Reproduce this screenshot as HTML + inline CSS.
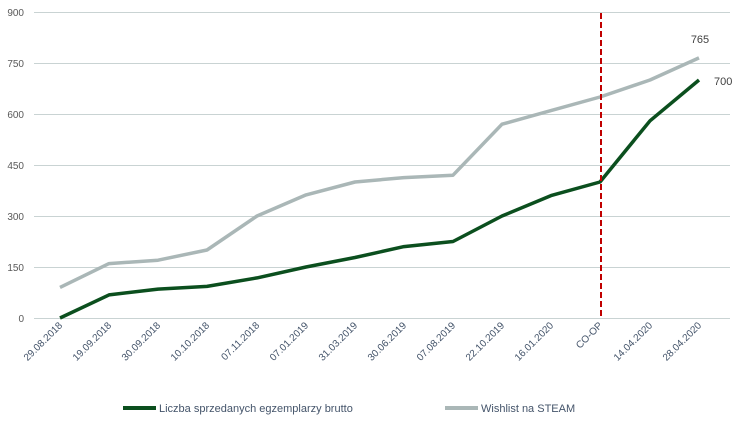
<!DOCTYPE html>
<html><head><meta charset="utf-8"><style>
body{margin:0;background:#fff;}
svg{display:block;font-family:"Liberation Sans",sans-serif;}
</style></head><body>
<svg width="740" height="423" viewBox="0 0 740 423">
<g stroke="#c9d3d3" stroke-width="1">
<line x1="34" y1="12.5" x2="730" y2="12.5"/>
<line x1="34" y1="63.5" x2="730" y2="63.5"/>
<line x1="34" y1="114.5" x2="730" y2="114.5"/>
<line x1="34" y1="165.5" x2="730" y2="165.5"/>
<line x1="34" y1="216.5" x2="730" y2="216.5"/>
<line x1="34" y1="267.5" x2="730" y2="267.5"/>
<line x1="34" y1="318.5" x2="730" y2="318.5"/>
</g>
<g fill="#595959" font-size="10" text-anchor="end">
<text x="24" y="16">900</text><text x="24" y="67">750</text><text x="24" y="118">600</text>
<text x="24" y="169">450</text><text x="24" y="220">300</text><text x="24" y="271">150</text><text x="24" y="322">0</text>
</g>
<g fill="#44546a" font-size="10" text-anchor="end">
<text transform="translate(63,326) rotate(-45)">29.08.2018</text>
<text transform="translate(112,326) rotate(-45)">19.09.2018</text>
<text transform="translate(161,326) rotate(-45)">30.09.2018</text>
<text transform="translate(210,326) rotate(-45)">10.10.2018</text>
<text transform="translate(260,326) rotate(-45)">07.11.2018</text>
<text transform="translate(309,326) rotate(-45)">07.01.2019</text>
<text transform="translate(358,326) rotate(-45)">31.03.2019</text>
<text transform="translate(407,326) rotate(-45)">30.06.2019</text>
<text transform="translate(456,326) rotate(-45)">07.08.2019</text>
<text transform="translate(505,326) rotate(-45)">22.10.2019</text>
<text transform="translate(554,326) rotate(-45)">16.01.2020</text>
<text transform="translate(603,326) rotate(-45)">CO-OP</text>
<text transform="translate(653,326) rotate(-45)">14.04.2020</text>
<text transform="translate(702,326) rotate(-45)">28.04.2020</text>
</g>
<polyline fill="none" stroke="#aab7b7" stroke-width="3.5" stroke-linejoin="round" points="60,287.4 109,263.6 158,260.2 207,250 257,216 306,194.9 355,182 404,177.6 453,175.2 502,124.2 551,110.6 600,97 650,80 699,57.9"/>
<polyline fill="none" stroke="#0b4f1e" stroke-width="3.5" stroke-linejoin="round" points="60,318 109,294.9 158,289.1 207,286.4 257,277.9 306,267 355,257.5 404,246.6 453,241.5 502,216 551,195.6 600,182 650,120.8 699,80"/>
<line x1="601" y1="13" x2="601" y2="318" stroke="#c00000" stroke-width="2" stroke-dasharray="6,3"/>
<text x="700" y="43" font-size="11" fill="#404040" text-anchor="middle">765</text>
<text x="714" y="85" font-size="11" fill="#404040">700</text>
<line x1="123" y1="408" x2="156" y2="408" stroke="#0b4f1e" stroke-width="4"/>
<text x="159" y="412" font-size="11" fill="#44546a">Liczba sprzedanych egzemplarzy brutto</text>
<line x1="445" y1="408" x2="478" y2="408" stroke="#aab7b7" stroke-width="4"/>
<text x="481" y="412" font-size="11" fill="#44546a">Wishlist na STEAM</text>
</svg>
</body></html>
